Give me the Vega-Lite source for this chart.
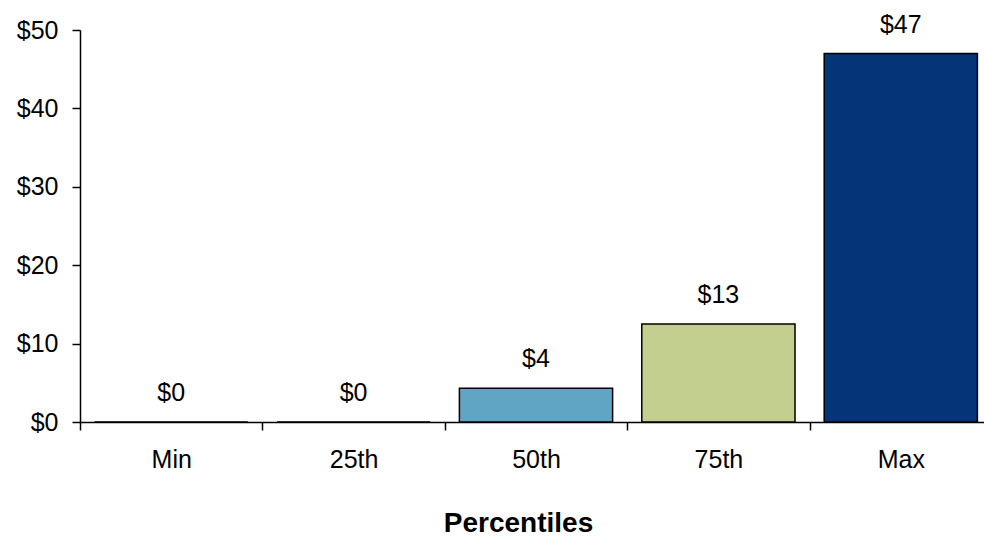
{
  "$schema": "https://vega.github.io/schema/vega-lite/v6.json",
  "width": 904,
  "height": 392,
  "autosize": {"type": "none"},
  "padding": {"left": 80, "top": 30, "right": 0, "bottom": 114},
  "background": "white",
  "config": {
    "view": {"stroke": null},
    "font": "Liberation Sans",
    "axis": {"grid": false, "domainColor": "black", "tickColor": "black", "domainWidth": 1.5, "tickWidth": 1.5, "labelColor": "black", "titleColor": "black", "labelFont": "Liberation Sans", "titleFont": "Liberation Sans"}
  },
  "data": {
    "values": [
      {"pct": "Min", "value": 0},
      {"pct": "25th", "value": 0},
      {"pct": "50th", "value": 4.3},
      {"pct": "75th", "value": 12.5},
      {"pct": "Max", "value": 47.0}
    ]
  },
  "encoding": {
    "x": {
      "field": "pct",
      "type": "nominal",
      "sort": null,
      "scale": {"range": [0, 912], "paddingInner": 0.16, "paddingOuter": 0.08},
      "axis": {
        "title": "Percentiles",
        "labelAngle": 0,
        "labelFontSize": 25,
        "labelBaseline": "middle",
        "tickOffset": -91.2,
        "labelOffset": 91.2,
        "tickSize": 8,
        "labelPadding": 29,
        "titleFontSize": 28,
        "titleFontWeight": "bold",
        "titleBaseline": "middle",
        "titleX": 438,
        "titleY": 101
      }
    },
    "y": {
      "field": "value",
      "type": "quantitative",
      "scale": {"domain": [0, 50], "nice": false},
      "axis": {
        "title": null,
        "values": [0, 10, 20, 30, 40, 50],
        "format": "$.0f",
        "labelFontSize": 25,
        "tickSize": 8,
        "labelPadding": 14
      }
    }
  },
  "layer": [
    {
      "mark": {"type": "bar", "stroke": "black", "strokeWidth": 1.5},
      "encoding": {
        "color": {
          "field": "pct",
          "type": "nominal",
          "scale": {"domain": ["Min", "25th", "50th", "75th", "Max"], "range": ["#ffffff", "#ffffff", "#61A5C5", "#C3CF8E", "#053578"]},
          "legend": null
        }
      }
    },
    {
      "mark": {"type": "text", "fontSize": 25, "baseline": "alphabetic", "dy": -21, "color": "black"},
      "encoding": {
        "text": {"field": "value", "type": "quantitative", "format": "$.0f"}
      }
    }
  ]
}
